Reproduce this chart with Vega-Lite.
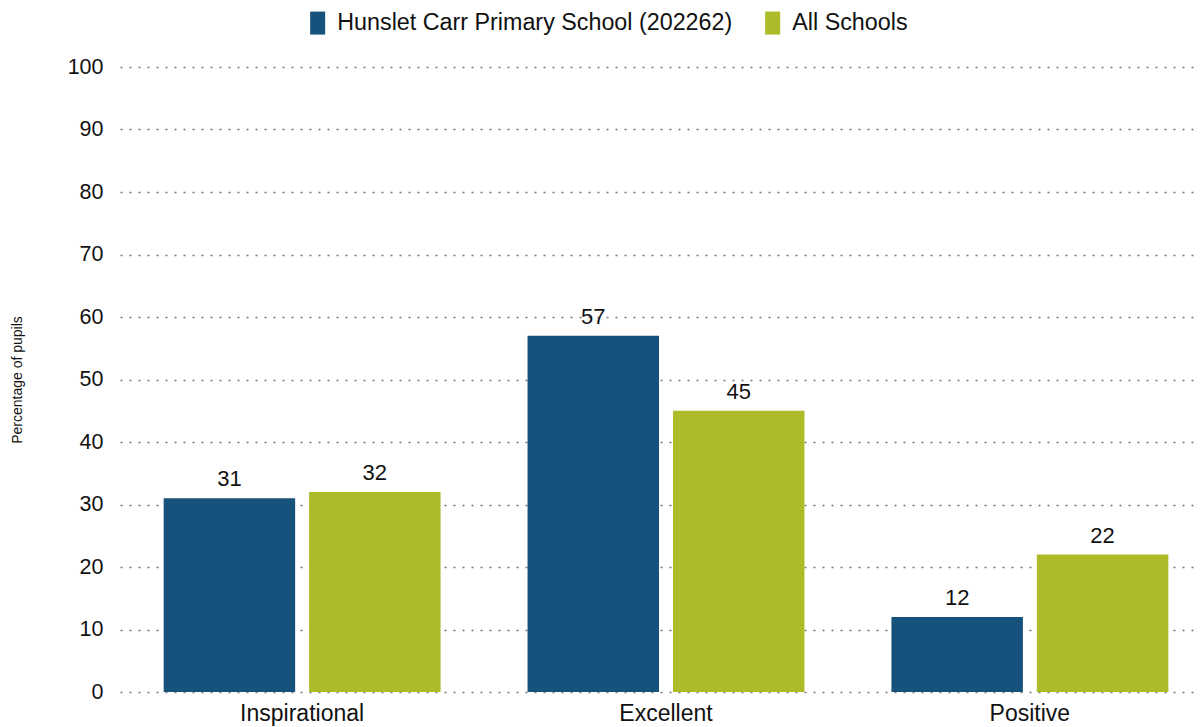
{
  "$schema": "https://vega.github.io/schema/vega-lite/v6.json",
  "autosize": "none",
  "width": 1092,
  "height": 625,
  "padding": {"left": 120, "top": 67, "right": 0, "bottom": 35},
  "background": "white",
  "config": {
    "font": "Liberation Sans",
    "view": {"stroke": null}
  },
  "data": {
    "values": [
      {"category": "Inspirational", "series": "Hunslet Carr Primary School (202262)", "value": 31},
      {"category": "Inspirational", "series": "All Schools", "value": 32},
      {"category": "Excellent", "series": "Hunslet Carr Primary School (202262)", "value": 57},
      {"category": "Excellent", "series": "All Schools", "value": 45},
      {"category": "Positive", "series": "Hunslet Carr Primary School (202262)", "value": 12},
      {"category": "Positive", "series": "All Schools", "value": 22}
    ]
  },
  "encoding": {
    "x": {
      "field": "category", "type": "nominal", "sort": ["Inspirational", "Excellent", "Positive"],
      "scale": {"paddingInner": 0.239, "paddingOuter": 0.12},
      "axis": {"title": null, "labelAngle": 0, "labelFontSize": 23, "labelColor": "#111", "domain": false, "ticks": false, "labelPadding": 10}
    },
    "xOffset": {
      "field": "series", "type": "nominal", "sort": ["Hunslet Carr Primary School (202262)", "All Schools"],
      "scale": {"paddingInner": 0.096, "paddingOuter": 0}
    },
    "y": {
      "field": "value", "type": "quantitative",
      "scale": {"domain": [0, 100]},
      "axis": {
        "title": "Percentage of pupils", "titleFontSize": 14, "titleFontWeight": "normal", "titleColor": "#111", "titlePadding": 43,
        "values": [0, 10, 20, 30, 40, 50, 60, 70, 80, 90, 100],
        "labelFontSize": 21.5, "labelColor": "#111", "labelPadding": 17,
        "domain": false, "ticks": false,
        "grid": true, "gridColor": "#777", "gridDash": [2, 7], "gridWidth": 1.5
      }
    }
  },
  "layer": [
    {
      "mark": {"type": "bar"},
      "encoding": {
        "color": {
          "field": "series", "type": "nominal",
          "sort": ["Hunslet Carr Primary School (202262)", "All Schools"],
          "scale": {"domain": ["Hunslet Carr Primary School (202262)", "All Schools"], "range": ["#17527c", "#acbb27"]},
          "legend": {
            "title": null, "orient": "none", "direction": "horizontal",
            "legendX": 186, "legendY": -56, "padding": 0,
            "symbolType": "M-0.652,-1H0.652V1H-0.652Z", "symbolSize": 529, "symbolStrokeWidth": 0,
            "labelFontSize": 23.3, "labelColor": "#111", "labelLimit": 0, "columnPadding": 28, "labelOffset": 8
          }
        }
      }
    },
    {
      "mark": {"type": "text", "baseline": "alphabetic", "dy": -12, "fontSize": 22, "color": "#111"},
      "encoding": {
        "text": {"field": "value", "type": "quantitative"}
      }
    }
  ]
}
